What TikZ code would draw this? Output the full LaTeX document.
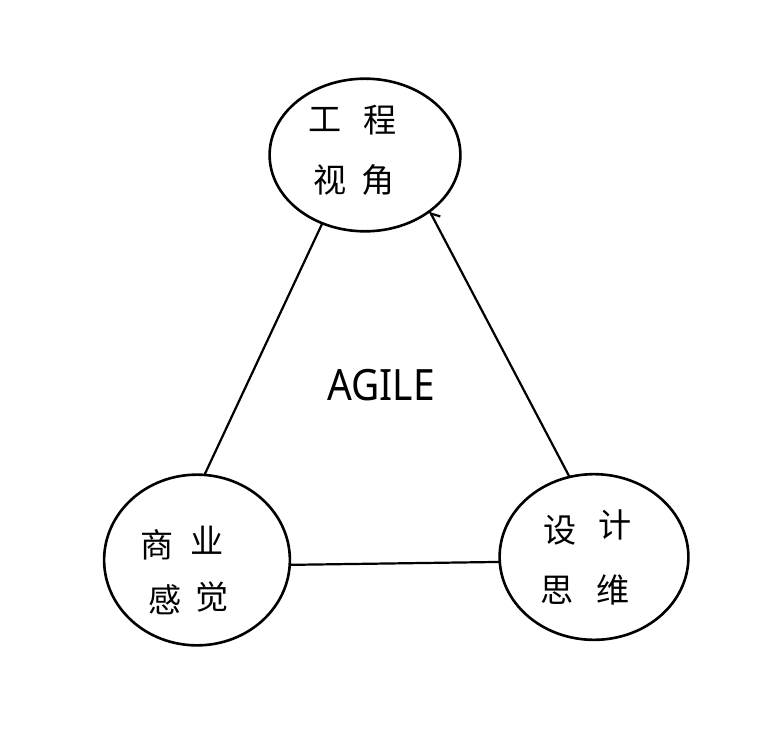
\documentclass[tikz,border=0pt]{standalone}
\usepackage{fontspec}
\newfontfamily\cjk{Noto Sans CJK SC}
\newfontfamily\agilefont{Noto Sans}
\usetikzlibrary{shapes.geometric,arrows.meta}

\tikzset{
  view/.style={ellipse, draw, line width=2.6pt, inner sep=0pt, outer sep=0pt},
  glyph/.style={font=\cjk\fontsize{33}{33}\selectfont},
  link/.style={line width=2.2pt},
}

\begin{document}
\begin{tikzpicture}[x=0.35mm, y=-0.35mm]

  \useasboundingbox (0,0) rectangle (776,730);

  % Define nodes
  \node[view, minimum width=190, minimum height=152] (eng) at (365,155) {};
  \node[view, minimum width=185, minimum height=170] (biz) at (197,560) {};
  \node[view, minimum width=188, minimum height=165] (dsn) at (594,557) {};

  \node[glyph] (eng1) at (325,120) {工};
  \node[glyph] (eng2) at (380,120) {程};
  \node[glyph] (eng3) at (330,180) {视};
  \node[glyph] (eng4) at (378,180) {角};

  \node[glyph] (biz1) at (157,545) {商};
  \node[glyph] (biz2) at (207,540) {业};
  \node[glyph] (biz3) at (165,600) {感};
  \node[glyph] (biz4) at (212,597) {觉};

  \node[glyph] (dsn1) at (560,530) {设};
  \node[glyph] (dsn2) at (615,525) {计};
  \node[glyph] (dsn3) at (557,590) {思};
  \node[glyph] (dsn4) at (613,590) {维};

  \node[font=\agilefont\fontsize{43}{43}\selectfont, xscale=0.9] (agile) at (381,385) {AGILE};

  % Connect the nodes
  \draw[link] (eng.238) -- (biz.85);
  \draw[link, {Straight Barb[right, length=7pt]}-] (eng.319) -- (dsn.107);
  \draw[link] (biz.357) -- (dsn.183);

\end{tikzpicture}
\end{document}
